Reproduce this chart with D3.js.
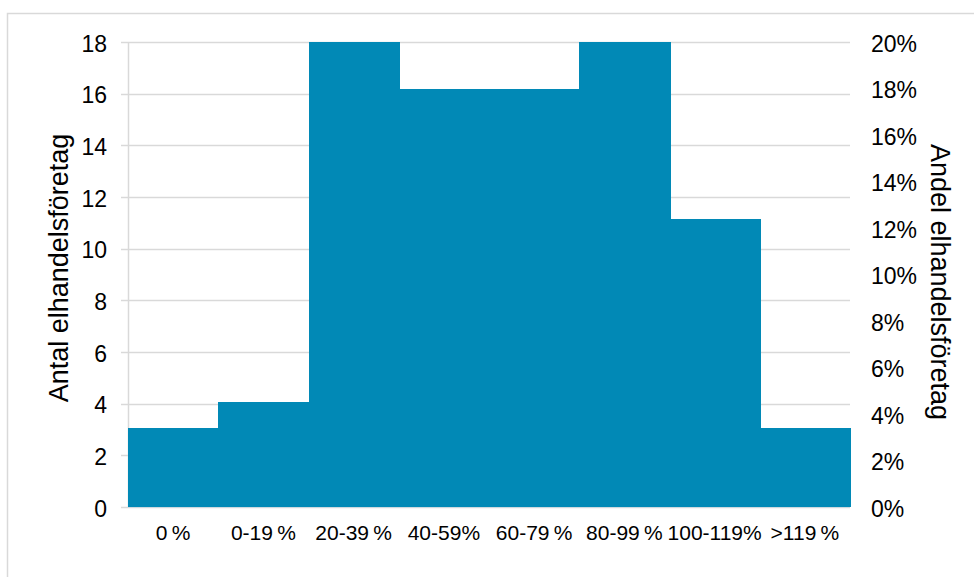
<!DOCTYPE html>
<html>
<head>
<meta charset="utf-8">
<script src="https://cdn.jsdelivr.net/npm/d3@7"></script>
<style>
  html, body { margin: 0; padding: 0; background: #fff; }
  svg { display: block; font-family: "Liberation Sans", Arial, sans-serif; }
</style>
</head>
<body>
<svg id="chart" width="974" height="577"></svg>
<script>
// Price-change buckets and the share of electricity retailers in each
const categories = ["0\u2009%", "0-19\u2009%", "20-39\u2009%", "40-59%", "60-79\u2009%", "80-99\u2009%", "100-119%", ">119\u2009%"];
const shares = [3.4, 4.5, 20.2, 18.0, 18.0, 20.2, 12.4, 3.4];   // percent of companies
const countTicks = [0, 2, 4, 6, 8, 10, 12, 14, 16, 18];
const shareTicks = [0, 2, 4, 6, 8, 10, 12, 14, 16, 18, 20];

const leftTitle = "Antal elhandelsföretag";
const rightTitle = "Andel elhandelsföretag";

const svg = d3.select("#chart");
const plot = { left: 128, right: 850, top: 42, bottom: 507 };
const grid = "#d9d9d9";
const barColor = "#0189b6";

// outer chart frame (runs off the right and bottom edge)
svg.append("rect")
  .attr("x", 7.5).attr("y", 13.5)
  .attr("width", 1000).attr("height", 1000)
  .attr("fill", "none").attr("stroke", grid).attr("stroke-width", 1.5);

const x = d3.scaleBand().domain(categories).range([plot.left, plot.right]).padding(0);
const yCount = d3.scaleLinear().domain([0, 18]).range([plot.bottom, plot.top]);
const yShare = d3.scaleLinear().domain([0, 20]).range([plot.bottom, plot.top]).clamp(true);

// horizontal gridlines from the count axis
svg.append("g")
  .selectAll("line")
  .data(countTicks)
  .join("line")
  .attr("x1", plot.left - 7).attr("x2", plot.right)
  .attr("y1", d => Math.round(yCount(d)) + 0.5)
  .attr("y2", d => Math.round(yCount(d)) + 0.5)
  .attr("stroke", grid).attr("stroke-width", 1.5);

// vertical axis line on the left
svg.append("line")
  .attr("x1", plot.left + 0.5).attr("x2", plot.left + 0.5)
  .attr("y1", plot.top).attr("y2", plot.bottom + 1)
  .attr("stroke", grid).attr("stroke-width", 1.5);

// histogram bars, plotted against the share axis (clipped at 20 %)
svg.append("g")
  .attr("shape-rendering", "crispEdges")
  .selectAll("rect")
  .data(shares)
  .join("rect")
  .attr("x", (d, i) => Math.round(x(categories[i])))
  .attr("width", (d, i) => Math.round(x(categories[i]) + x.bandwidth()) - Math.round(x(categories[i])) + 1)
  .attr("y", d => Math.round(yShare(d)))
  .attr("height", d => Math.round(yShare(0)) - Math.round(yShare(d)))
  .attr("fill", barColor);

// baseline
svg.append("line")
  .attr("x1", plot.left).attr("x2", plot.right)
  .attr("y1", plot.bottom + 0.5).attr("y2", plot.bottom + 0.5)
  .attr("stroke", "#cdd9df").attr("stroke-width", 1.2);

// left axis labels
const leftAxis = d3.axisLeft(yCount).tickValues(countTicks).tickSize(0).tickPadding(0);
const gL = svg.append("g").attr("transform", `translate(${plot.left - 21},0)`).call(leftAxis);
gL.select(".domain").remove();
gL.selectAll("text")
  .attr("font-size", 23).attr("fill", "#000")
  .attr("font-family", "Liberation Sans, Arial, sans-serif")
  .attr("dy", "0.4em");

// right axis labels
const rightAxis = d3.axisRight(yShare).tickValues(shareTicks).tickSize(0).tickPadding(0)
  .tickFormat(d => d + "%");
const gR = svg.append("g").attr("transform", `translate(871,0)`).call(rightAxis);
gR.select(".domain").remove();
gR.selectAll("text")
  .attr("font-size", 23).attr("fill", "#000")
  .attr("font-family", "Liberation Sans, Arial, sans-serif")
  .attr("dy", "0.4em");

// category labels
const bottomAxis = d3.axisBottom(x).tickSize(0).tickPadding(0);
const gB = svg.append("g").attr("transform", `translate(0,${plot.bottom})`).call(bottomAxis);
gB.select(".domain").remove();
gB.selectAll("text")
  .attr("font-size", 21).attr("fill", "#000")
  .attr("font-family", "Liberation Sans, Arial, sans-serif")
  .attr("y", 33).attr("dy", 0);

// axis titles
svg.append("text")
  .attr("transform", `translate(68,268) rotate(-90)`)
  .attr("text-anchor", "middle")
  .attr("font-size", 27).attr("fill", "#000")
  .text(leftTitle);

svg.append("text")
  .attr("transform", `translate(931,282) rotate(90)`)
  .attr("text-anchor", "middle")
  .attr("font-size", 27).attr("fill", "#000")
  .text(rightTitle);
</script>
</body>
</html>
